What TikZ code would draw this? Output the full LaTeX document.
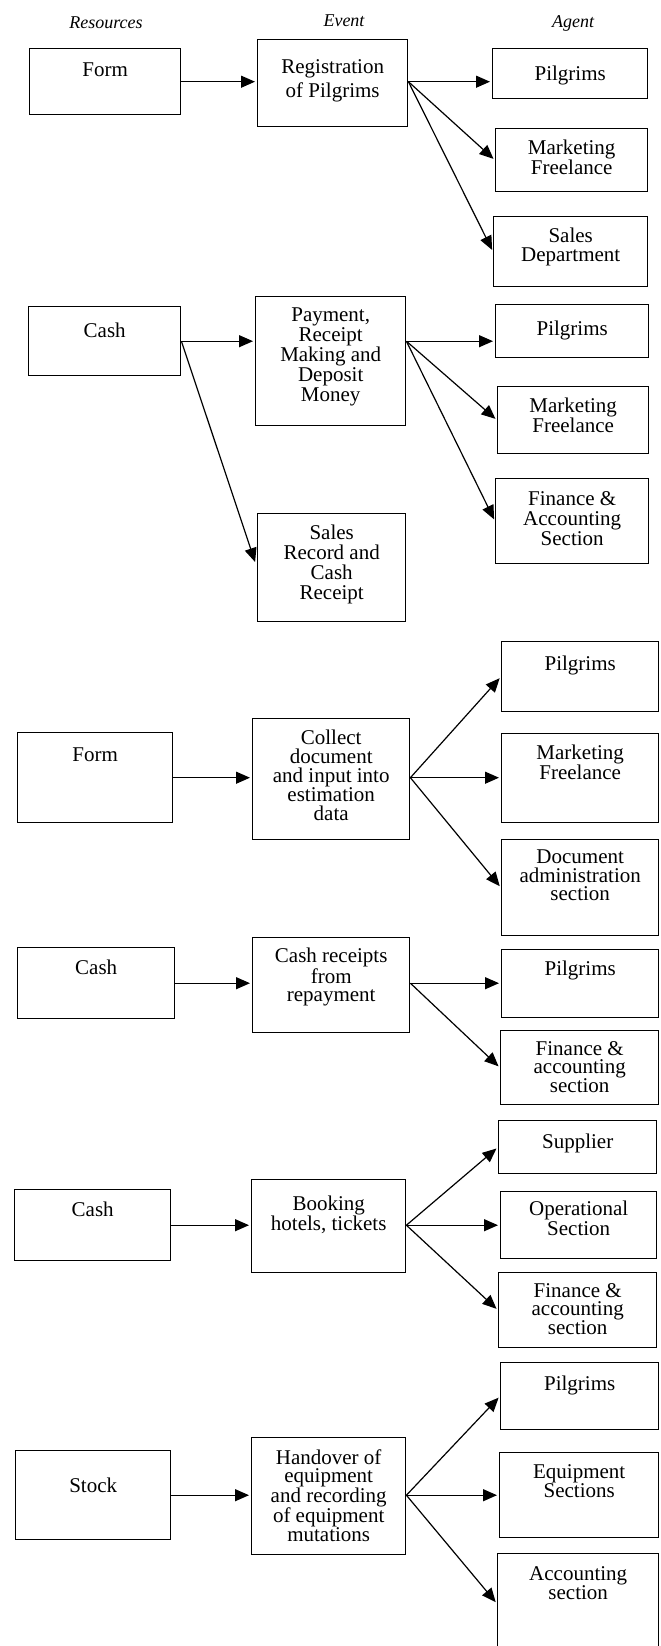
\documentclass[tikz,border=0pt]{standalone}
\usepackage{fontspec}
\setmainfont{Liberation Serif}
\usetikzlibrary{positioning, arrows.meta}

\begin{document}
\begin{tikzpicture}
	[x=1pt, y=-1pt, >={Triangle[length=14pt,width=12pt]}, shorten >=2pt,
	 box/.style 2 args={draw, line width=1.4pt, anchor=north west, inner sep=0pt,
	   minimum width=#1, minimum height=#2},
	 txt/.style={anchor=north, yshift=-#1-2pt, align=center, inner sep=0pt,
	   font=\fontsize{21}{19}\selectfont},
	 txt/.default=10pt,
	 head/.style={font=\fontsize{18}{18}\selectfont\itshape},
	 every edge/.style={draw, line width=1.2pt}]
   \useasboundingbox (0,0) rectangle (661,1646);
   \node[head] (h_res) at (106,23) {Resources};
   \node[head] (h_ev)  at (344,21) {Event};
   \node[head] (h_ag)  at (573,23) {Agent};
   % registration
   \node[box={151pt}{66pt}, label={[txt=13pt]north:{Form}}] (res_1) at (29,48) {};
   \node[box={150pt}{87pt}, label={[txt=18pt, font=\fontsize{21}{24}\selectfont]north:{Registration\\of Pilgrims}}] (ev_1) at (257,39) {};
   \node[box={155pt}{50pt}, label={[txt=16pt]north:{Pilgrims}}] (ag_1a) at (492,48) {};
   \node[box={152pt}{63pt}, label={[txt]north:{Marketing\\Freelance}}] (ag_1b) at (495,128) {};
   \node[box={154pt}{70pt}, label={[txt]north:{Sales\\Department}}] (ag_1c) at (493,216) {};
   \coordinate (out_1) at (ev_1.east |- res_1.east);
    \path[->]
    (res_1.east) edge (ev_1.west |- res_1.east)
    (out_1) edge (ag_1a.west |- out_1)
    (out_1) edge (ag_1b.west)
    (out_1) edge (ag_1c.west);
   % payment
   \node[box={152pt}{69pt}, label={[txt=15pt]north:{Cash}}] (res_2) at (28,306) {};
   \node[box={150pt}{129pt}, label={[txt, font=\fontsize{21}{20}\selectfont]north:{Payment,\\Receipt\\Making and\\Deposit\\Money}}] (ev_2) at (255,296) {};
   \node[box={148pt}{108pt}, label={[txt, font=\fontsize{21}{20}\selectfont]north:{Sales\\Record and\\Cash\\Receipt}}] (rec_2) at (257,513) {};
   \node[box={153pt}{53pt}, label={[txt=15pt]north:{Pilgrims}}] (ag_2a) at (495,304) {};
   \node[box={151pt}{67pt}, label={[txt, font=\fontsize{21}{20}\selectfont]north:{Marketing\\Freelance}}] (ag_2b) at (497,386) {};
   \node[box={153pt}{85pt}, label={[txt=11pt, font=\fontsize{21}{20}\selectfont]north:{Finance \&\\Accounting\\Section}}] (ag_2c) at (495,478) {};
   \coordinate (out_2) at (ev_2.east |- res_2.east);
    \path[->]
    (res_2.east) edge (ev_2.west |- res_2.east)
    (res_2.east) edge [shorten >=6pt] (rec_2.west)
    (out_2) edge (ag_2a.west |- out_2)
    (out_2) edge (ag_2b.west)
    (out_2) edge (ag_2c.west);
   % documents
   \node[box={155pt}{90pt}, label={[txt=14pt]north:{Form}}] (res_3) at (17,732) {};
   \node[box={157pt}{121pt}, label={[txt=10pt, font=\fontsize{21}{19}\selectfont]north:{Collect\\document\\and input into\\estimation\\data}}] (ev_3) at (252,718) {};
   \node[box={157pt}{70pt}, label={[txt=13pt]north:{Pilgrims}}] (ag_3a) at (501,641) {};
   \node[box={157pt}{89pt}, label={[txt]north:{Marketing\\Freelance}}] (ag_3b) at (501,733) {};
   \node[box={157pt}{96pt}, label={[txt=9pt, font=\fontsize{21}{18.5}\selectfont]north:{Document\\administration\\section}}] (ag_3c) at (501,839) {};
   \coordinate (out_3) at (ev_3.east |- res_3.east);
    \path[->]
    (res_3.east) edge (ev_3.west |- res_3.east)
    (out_3) edge (ag_3a.west)
    (out_3) edge (ag_3b.west |- out_3)
    (out_3) edge (ag_3c.west);
   % repayment
   \node[box={157pt}{71pt}, label={[txt=11pt]north:{Cash}}] (res_4) at (17,947) {};
   \node[box={157pt}{95pt}, label={[txt=9pt, font=\fontsize{21}{18.5}\selectfont]north:{Cash receipts\\from\\repayment}}] (ev_4) at (252,937) {};
   \node[box={157pt}{68pt}, label={[txt]north:{Pilgrims}}] (ag_4a) at (501,949) {};
   \node[box={158pt}{74pt}, label={[txt=9pt, font=\fontsize{21}{18.5}\selectfont]north:{Finance \&\\accounting\\section}}] (ag_4b) at (500,1030) {};
   \coordinate (out_4) at (ev_4.east |- res_4.east);
    \path[->]
    (res_4.east) edge (ev_4.west |- res_4.east)
    (out_4) edge (ag_4a.west |- out_4)
    (out_4) edge (ag_4b.west);
   % booking
   \node[box={156pt}{71pt}, label={[txt=11pt]north:{Cash}}] (res_5) at (14,1189) {};
   \node[box={154pt}{93pt}, label={[txt=15pt]north:{Booking\\hotels, tickets}}] (ev_5) at (251,1179) {};
   \node[box={158pt}{53pt}, label={[txt=12pt]north:{Supplier}}] (ag_5a) at (498,1120) {};
   \node[box={156pt}{67pt}, label={[txt=8pt, font=\fontsize{21}{18}\selectfont]north:{Operational\\Section}}] (ag_5b) at (500,1191) {};
   \node[box={158pt}{75pt}, label={[txt=9pt, font=\fontsize{21}{18.5}\selectfont]north:{Finance \&\\accounting\\section}}] (ag_5c) at (498,1272) {};
   \coordinate (out_5) at (ev_5.east |- res_5.east);
    \path[->]
    (res_5.east) edge (ev_5.west |- res_5.east)
    (out_5) edge (ag_5a.west)
    (out_5) edge (ag_5b.west |- out_5)
    (out_5) edge (ag_5c.west);
   % handover
   \node[box={155pt}{89pt}, label={[txt=26pt]north:{Stock}}] (res_6) at (15,1450) {};
   \node[box={154pt}{117pt}, label={[txt, font=\fontsize{21}{18.5}\selectfont]north:{Handover of\\equipment\\and recording\\of equipment\\mutations}}] (ev_6) at (251,1437) {};
   \node[box={158pt}{67pt}, label={[txt=12pt]north:{Pilgrims}}] (ag_6a) at (500,1362) {};
   \node[box={159pt}{85pt}, label={[txt, font=\fontsize{21}{18}\selectfont]north:{Equipment\\Sections}}] (ag_6b) at (499,1452) {};
   \node[box={161pt}{100pt}, label={[txt=11pt, font=\fontsize{21}{18}\selectfont]north:{Accounting\\section}}] (ag_6c) at (497,1553) {};
   \coordinate (out_6) at (ev_6.east |- res_6.east);
    \path[->]
    (res_6.east) edge (ev_6.west |- res_6.east)
    (out_6) edge (ag_6a.west)
    (out_6) edge (ag_6b.west |- out_6)
    (out_6) edge (ag_6c.west);
\end{tikzpicture}
\end{document}
